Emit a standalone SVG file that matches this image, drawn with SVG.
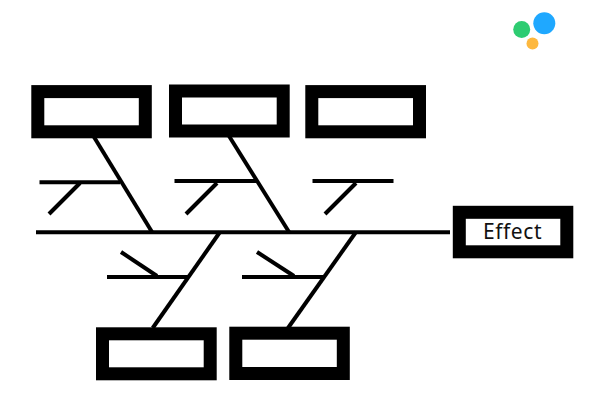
<svg xmlns="http://www.w3.org/2000/svg" width="600" height="405" viewBox="0 0 600 405">
<style>
.box{fill:#fff;stroke:#000;stroke-width:13}
.ln{fill:none;stroke:#000;stroke-width:4}
.lbl{font-family:"Noto Sans","DejaVu Sans",sans-serif;font-size:21px;fill:#111;text-anchor:middle;letter-spacing:.6px}
</style>
<rect width="600" height="405" fill="#fff"/>
<g id="logo">
<circle cx="544.3" cy="23.3" r="11" fill="#1fa8ff"/>
<circle cx="521.7" cy="29.5" r="8.5" fill="#2ecc71"/>
<circle cx="532.5" cy="43.5" r="6" fill="#fdb83f"/>
</g>
<g id="connectors" class="ln">
<path d="M36 232.3H450"/>
<path d="M94 137L152 232"/>
<path d="M229 136L289 232"/>
<path d="M220 232L152.7 328"/>
<path d="M356 232L288 328"/>
<path d="M39.500 182.300H120"/>
<path d="M80 183L49 214"/>
<path d="M174.500 181H256"/>
<path d="M217 183L186 214"/>
<path d="M312.500 181H393.500"/>
<path d="M356 183L325 214"/>
<path d="M107 277H188"/>
<path d="M121 252L157 276"/>
<path d="M242 277H323"/>
<path d="M257 252L294 276"/>
</g>
<g id="cause-1"><rect class="box" x="37.800" y="91.600" width="107.500" height="40.200"/></g>
<g id="cause-2"><rect class="box" x="175.500" y="91" width="107.700" height="40"/></g>
<g id="cause-3"><rect class="box" x="311.800" y="91.600" width="107.700" height="40.200"/></g>
<g id="cause-4"><rect class="box" x="102.500" y="333.800" width="107.700" height="40"/></g>
<g id="cause-5"><rect class="box" x="235.800" y="333.200" width="107.500" height="40.300"/></g>
<g id="effect"><rect class="box" x="459.300" y="212.300" width="107.500" height="39.500"/>
<text class="lbl" x="512.500" y="238.500">Effect</text></g>
</svg>
